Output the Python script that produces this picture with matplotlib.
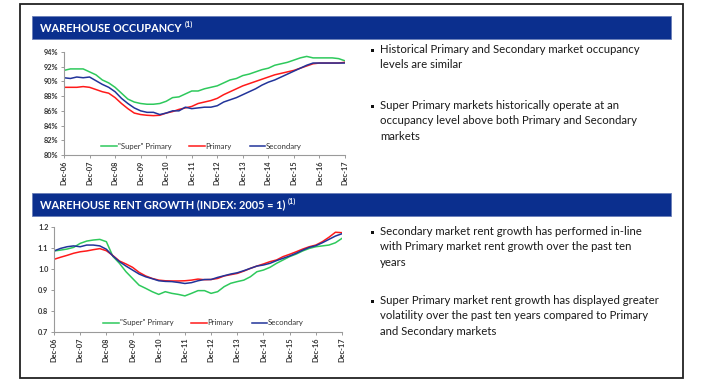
import numpy as np
import matplotlib
matplotlib.use('Agg')
import matplotlib.pyplot as plt
from matplotlib.patches import Rectangle

plt.rcParams['font.family'] = ['Lato', 'DejaVu Sans']

# quarterly points, Dec-06 .. Dec-17
years = ['Dec-%02d' % y for y in range(6, 18)]
quarters = np.arange(45) / 4.0

occ_super = [91.5, 91.7, 91.7, 91.7, 91.3, 90.9, 90.2, 89.8, 89.2, 88.4, 87.6, 87.2,
             87.0, 86.9, 86.9, 87.0, 87.3, 87.8, 87.9, 88.3, 88.7, 88.7, 89.0, 89.2,
             89.4, 89.8, 90.2, 90.4, 90.8, 91.0, 91.3, 91.6, 91.8, 92.2, 92.4, 92.6,
             92.9, 93.2, 93.4, 93.2, 93.2, 93.2, 93.2, 93.1, 92.8]
occ_primary = [89.2, 89.2, 89.2, 89.3, 89.2, 88.9, 88.6, 88.4, 87.8, 87.0, 86.3, 85.7,
               85.5, 85.4, 85.35, 85.4, 85.7, 85.9, 86.2, 86.4, 86.6, 87.0, 87.2, 87.4,
               87.7, 88.2, 88.6, 89.0, 89.4, 89.7, 90.0, 90.3, 90.6, 90.9, 91.1, 91.3,
               91.5, 91.8, 92.1, 92.4, 92.5, 92.5, 92.5, 92.5, 92.6]
occ_secondary = [90.5, 90.4, 90.6, 90.5, 90.6, 90.1, 89.6, 89.2, 88.6, 87.7, 87.0, 86.4,
                 86.0, 85.8, 85.8, 85.5, 85.7, 86.0, 86.0, 86.5, 86.3, 86.4, 86.5, 86.5,
                 86.7, 87.2, 87.5, 87.8, 88.2, 88.6, 89.0, 89.5, 89.9, 90.2, 90.6, 91.0,
                 91.4, 91.8, 92.2, 92.5, 92.5, 92.5, 92.5, 92.5, 92.5]

rent_super = [1.086, 1.090, 1.095, 1.103, 1.122, 1.133, 1.138, 1.141, 1.130, 1.060, 1.027, 0.987,
              0.955, 0.923, 0.908, 0.892, 0.879, 0.892, 0.884, 0.879, 0.872, 0.884, 0.897, 0.897,
              0.884, 0.892, 0.916, 0.932, 0.940, 0.947, 0.963, 0.987, 0.995, 1.008, 1.027, 1.043,
              1.059, 1.071, 1.086, 1.098, 1.106, 1.110, 1.114, 1.125, 1.146]
rent_primary = [1.046, 1.056, 1.065, 1.075, 1.082, 1.086, 1.092, 1.097, 1.087, 1.064, 1.038, 1.024,
                1.008, 0.984, 0.967, 0.955, 0.947, 0.944, 0.943, 0.943, 0.944, 0.947, 0.952, 0.949,
                0.950, 0.955, 0.967, 0.973, 0.979, 0.990, 1.003, 1.014, 1.024, 1.035, 1.043, 1.059,
                1.070, 1.082, 1.095, 1.106, 1.114, 1.130, 1.151, 1.175, 1.173]
rent_secondary = [1.086, 1.098, 1.106, 1.110, 1.106, 1.114, 1.114, 1.110, 1.094, 1.062, 1.035, 1.014,
                  0.995, 0.976, 0.963, 0.954, 0.944, 0.941, 0.940, 0.936, 0.931, 0.935, 0.944, 0.950,
                  0.950, 0.960, 0.968, 0.976, 0.982, 0.992, 1.003, 1.014, 1.019, 1.027, 1.040, 1.051,
                  1.062, 1.075, 1.090, 1.103, 1.111, 1.125, 1.141, 1.157, 1.168]

labels = ['"Super" Primary', 'Primary', 'Secondary']
colors = ['#2ec95c', '#ff1a1a', '#22349a']

occ_title = 'WAREHOUSE OCCUPANCY'
rent_title = 'WAREHOUSE RENT GROWTH (INDEX: 2005 = 1)'
occ_bullets = ['Historical Primary and Secondary market occupancy\nlevels are similar',
               'Super Primary markets historically operate at an\noccupancy level above both Primary and Secondary\nmarkets']
rent_bullets = ['Secondary market rent growth has performed in-line\nwith Primary market rent growth over the past ten\nyears',
                'Super Primary market rent growth has displayed greater\nvolatility over the past ten years compared to Primary\nand Secondary markets']

W, H = 710, 384
fig = plt.figure(figsize=(W / 100, H / 100), dpi=100)

# background layer in pixel coords
bg = fig.add_axes([0, 0, 1, 1])
bg.set_xlim(0, W)
bg.set_ylim(H, 0)
bg.axis('off')
bg.add_patch(Rectangle((20, 4), 663, 374, fill=False, edgecolor='#222222', lw=1.3))
NAVY = '#0b2f8e'
for top, title in [(16, occ_title), (193, rent_title)]:
    bg.add_patch(Rectangle((32, top), 639, 23, facecolor=NAVY, edgecolor='#6a7fb8', lw=0.6))
    t = bg.text(40, top + 12, title, color='white', fontsize=7.9, fontweight='bold',
                va='center', ha='left')
    bg.annotate('(1)', xy=(1, 1), xycoords=t, xytext=(2, 1), textcoords='offset points',
                va='top', ha='left', color='white', fontsize=5.2, fontweight='bold')


def bullets(items, y_list):
    # y_list = centre of first line, in pixels
    for txt, y in zip(items, y_list):
        bg.add_patch(Rectangle((370.5, y - 2.5), 3.5, 3.5, facecolor='#111111', lw=0))
        bg.text(380, y - 7, txt, fontsize=8.2, va='top', ha='left', color='#1a1a1a',
                linespacing=1.48)


bullets(occ_bullets, [51, 107])
bullets(rent_bullets, [233, 302])


def make_axes(rect_px, series, ylim, yticks, yfmt, leg_anchor):
    l, r, t, b = rect_px
    ax = fig.add_axes([l / W, (H - b) / H, (r - l) / W, (b - t) / H])
    for s, c, lab in zip(series, colors, labels):
        ax.plot(quarters, s, color=c, lw=1.1, label=lab)
    ax.set_xlim(0, 11)
    ax.set_ylim(*ylim)
    ax.set_yticks(yticks)
    ax.set_yticklabels([yfmt(v) for v in yticks])
    ax.set_xticks(range(12))
    ax.set_xticklabels(years, rotation=90)
    for sp in ['top', 'right']:
        ax.spines[sp].set_visible(False)
    for sp in ['left', 'bottom']:
        ax.spines[sp].set_color('#9a9a9a')
        ax.spines[sp].set_linewidth(0.8)
    ax.tick_params(axis='both', labelsize=5.3, colors='#9a9a9a', length=2.5, width=0.7,
                   labelcolor='#333333', pad=1.5)
    for lb in ax.get_xticklabels() + ax.get_yticklabels():
        lb.set_fontweight('bold')
    ax.legend(loc='center', bbox_to_anchor=leg_anchor, ncol=3, frameon=False,
              fontsize=5.6, handlelength=2.0, handletextpad=0.1, columnspacing=2.3,
              labelcolor='#333333')
    return ax


make_axes((64, 345, 52, 155), [occ_super, occ_primary, occ_secondary], (80, 94),
          [80, 82, 84, 86, 88, 90, 92, 94], lambda v: '%d%%' % v, (0.49, 0.087))
make_axes((54, 342, 227, 332), [rent_super, rent_primary, rent_secondary], (0.7, 1.2),
          [0.7, 0.8, 0.9, 1.0, 1.1, 1.2], lambda v: '%.1f' % v, (0.52, 0.086))

fig.savefig('out.png', dpi=100)
